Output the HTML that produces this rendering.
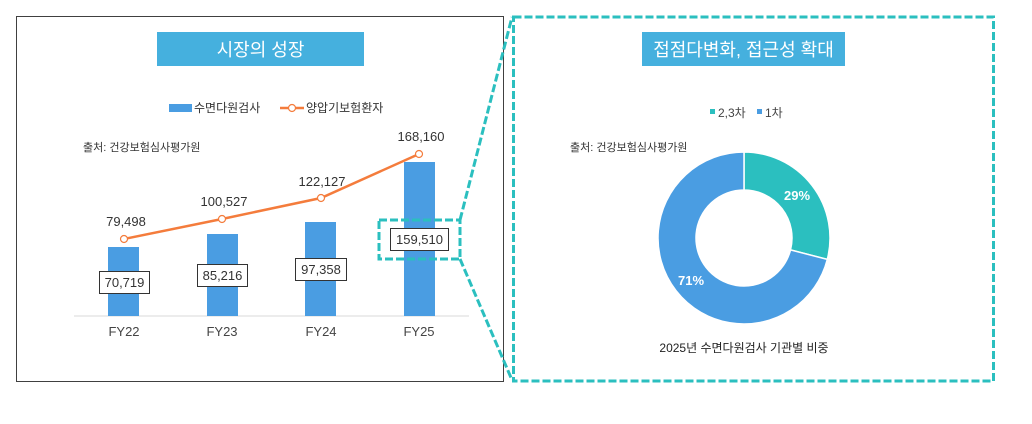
<!DOCTYPE html>
<html><head><meta charset="utf-8"><style>
body{margin:0;background:#fff;}
text{font-family:"Liberation Sans","Noto Sans CJK KR",sans-serif;}
</style></head><body>
<svg width="1032" height="419" xmlns="http://www.w3.org/2000/svg">
<rect x="16.5" y="16.5" width="487" height="365" fill="#fff" stroke="#404040" stroke-width="1"/>
<rect x="157" y="32" width="207" height="34" fill="#45b0de"/>
<text x="260.5" y="56" font-size="18" fill="#fff" text-anchor="middle">시장의 성장</text>
<rect x="169" y="104" width="23" height="8" fill="#4a9de2"/>
<text x="194" y="112" font-size="12" fill="#333">수면다원검사</text>
<line x1="280" y1="108" x2="304" y2="108" stroke="#f47c3c" stroke-width="2.5"/>
<circle cx="292" cy="108" r="3.5" fill="#fff" stroke="#f47c3c" stroke-width="1.2"/>
<text x="306" y="112" font-size="12" fill="#333">양압기보험환자</text>
<text x="83" y="151" font-size="11" fill="#333">출처: 건강보험심사평가원</text>
<line x1="74" y1="316" x2="469" y2="316" stroke="#d9d9d9" stroke-width="1"/>
<g fill="#4a9de2">
<rect x="108" y="247" width="31" height="69"/>
<rect x="207" y="234" width="31" height="82"/>
<rect x="305" y="222" width="31" height="94"/>
<rect x="404" y="162" width="31" height="154"/>
</g>
<polyline points="124,239 222,219 321,198 419,154" fill="none" stroke="#f47c3c" stroke-width="2.5"/>
<g fill="#fff" stroke="#f47c3c" stroke-width="1.2">
<circle cx="124" cy="239" r="3.5"/><circle cx="222" cy="219" r="3.5"/><circle cx="321" cy="198" r="3.5"/><circle cx="419" cy="154" r="3.5"/>
</g>
<g font-size="13" fill="#333" text-anchor="middle">
<text x="126" y="226">79,498</text>
<text x="224" y="206">100,527</text>
<text x="322" y="186">122,127</text>
<text x="421" y="141">168,160</text>
</g>
<g fill="#fff" stroke="#333" stroke-width="1">
<rect x="99.5" y="271.5" width="50" height="22"/>
<rect x="197.5" y="264.5" width="50" height="22"/>
<rect x="295.5" y="258.5" width="51" height="22"/>
<rect x="390.5" y="228.5" width="58" height="22"/>
</g>
<g font-size="13" fill="#333" text-anchor="middle">
<text x="124.5" y="287">70,719</text>
<text x="222.5" y="280">85,216</text>
<text x="321" y="274">97,358</text>
<text x="419.5" y="244">159,510</text>
</g>
<g font-size="13" fill="#444" text-anchor="middle">
<text x="124" y="336">FY22</text><text x="222" y="336">FY23</text><text x="321" y="336">FY24</text><text x="419" y="336">FY25</text>
</g>
<g fill="none" stroke="#2bbfbf" stroke-width="3" stroke-dasharray="8,3">
<rect x="379" y="220" width="81" height="39"/>
<line x1="460" y1="220" x2="512" y2="17"/>
<line x1="460" y1="259" x2="512" y2="380"/>
<rect x="513.5" y="17" width="480" height="364"/>
</g>
<rect x="642" y="32" width="203" height="34" fill="#45b0de"/>
<text x="743.5" y="56" font-size="18" fill="#fff" text-anchor="middle">접점다변화, 접근성 확대</text>
<rect x="710" y="109" width="5" height="5" fill="#2bbfbf"/>
<text x="718" y="117" font-size="12" fill="#444">2,3차</text>
<rect x="757" y="109" width="5" height="5" fill="#4a9de2"/>
<text x="765" y="117" font-size="12" fill="#444">1차</text>
<text x="570" y="151" font-size="11" fill="#333">출처: 건강보험심사평가원</text>
<g transform="translate(744,238)" stroke="#fff" stroke-width="1.5">
<path d="M0,-86 A86,86 0 0 1 83.3,21.4 L46.5,11.9 A48,48 0 0 0 0,-48 Z" fill="#2bbfbf"/>
<path d="M83.3,21.4 A86,86 0 1 1 0,-86 L0,-48 A48,48 0 1 0 46.5,11.9 Z" fill="#4a9de2"/>
</g>
<text x="797" y="200" font-size="13" fill="#fff" text-anchor="middle" font-weight="bold">29%</text>
<text x="691" y="285" font-size="13" fill="#fff" text-anchor="middle" font-weight="bold">71%</text>
<text x="744" y="352" font-size="12" fill="#222" text-anchor="middle">2025년 수면다원검사 기관별 비중</text>
</svg>
</body></html>
